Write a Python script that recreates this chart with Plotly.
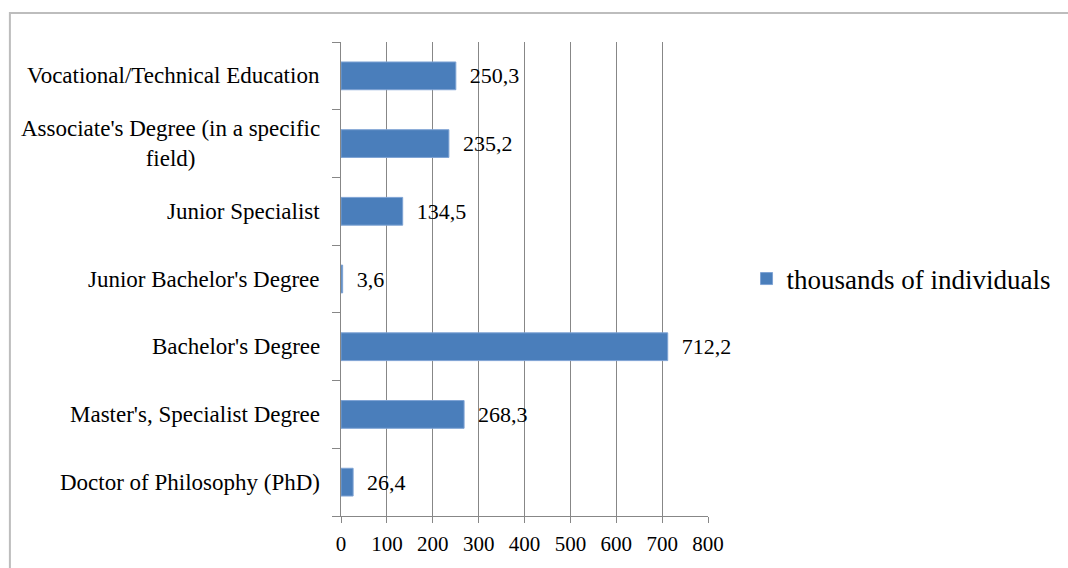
import plotly.graph_objects as go

# Education levels (top to bottom) and counts in thousands of individuals
categories = [
    "Vocational/Technical Education",
    "Associate's Degree (in a specific<br>field)",
    "Junior Specialist",
    "Junior Bachelor's Degree",
    "Bachelor's Degree",
    "Master's, Specialist Degree",
    "Doctor of Philosophy (PhD)",
]
values = [250.3, 235.2, 134.5, 3.6, 712.2, 268.3, 26.4]
series_name = "thousands of individuals"
x_ticks = [0, 100, 200, 300, 400, 500, 600, 700, 800]

FONT = "Liberation Serif, Times New Roman, serif"
BAR_COLOR = "#4a7ebb"
AXIS_GRAY = "#878787"

# value labels use a decimal comma
labels = ["\u00a0\u00a0" + f"{v:.1f}".replace(".", ",") for v in values]

fig = go.Figure()
fig.add_trace(go.Bar(
    y=categories,
    x=values,
    orientation="h",
    name=series_name,
    marker=dict(color=BAR_COLOR, line=dict(color="#7ea3d4", width=1)),
    text=labels,
    textposition="outside",
    constraintext="none",
    cliponaxis=False,
    textfont=dict(family=FONT, size=22, color="#000000"),
    showlegend=True,
))

# category labels, centred line by line, placed left of the value axis
for cat in categories:
    fig.add_annotation(
        x=0, xref="paper", y=cat, yref="y",
        text=cat, showarrow=False,
        xanchor="right", yanchor="middle", xshift=-19,
        align="center",
        font=dict(family=FONT, size=23, color="#000000"),
    )

# outer frame of the chart
fig.add_shape(
    type="rect", xref="paper", yref="paper",
    x0=(9 - 341) / 368, x1=(1090 - 341) / 368,
    y0=(518 - 600) / 476, y1=(518 - 13) / 476,
    line=dict(color="#bdbdbd", width=2), fillcolor="rgba(0,0,0,0)",
    layer="below",
)

fig.update_layout(
    width=1068, height=568,
    margin=dict(l=341, r=359, t=42, b=50),
    paper_bgcolor="white", plot_bgcolor="white",
    bargap=0.59,
    font=dict(family=FONT, color="#000000"),
    legend=dict(
        x=1.105, y=0.5, xanchor="left", yanchor="middle",
        font=dict(family=FONT, size=27, color="#000000"),
        bgcolor="rgba(0,0,0,0)", itemwidth=30,
    ),
    xaxis=dict(
        range=[0, 800], tickvals=x_ticks, ticktext=[str(t) for t in x_ticks],
        showgrid=True, gridcolor=AXIS_GRAY, gridwidth=1,
        showline=True, linecolor=AXIS_GRAY, linewidth=1,
        ticks="outside", ticklen=6, tickcolor=AXIS_GRAY,
        ticklabelstandoff=3,
        tickfont=dict(family=FONT, size=21, color="#000000"),
        zeroline=False, fixedrange=True,
    ),
    yaxis=dict(
        type="category",
        categoryorder="array", categoryarray=categories[::-1],
        showticklabels=False, showgrid=False,
        showline=True, linecolor=AXIS_GRAY, linewidth=1,
        ticks="outside", ticklen=8, tickcolor=AXIS_GRAY, tickson="boundaries",
        zeroline=False, fixedrange=True,
    ),
)

fig.write_html("out.html")
